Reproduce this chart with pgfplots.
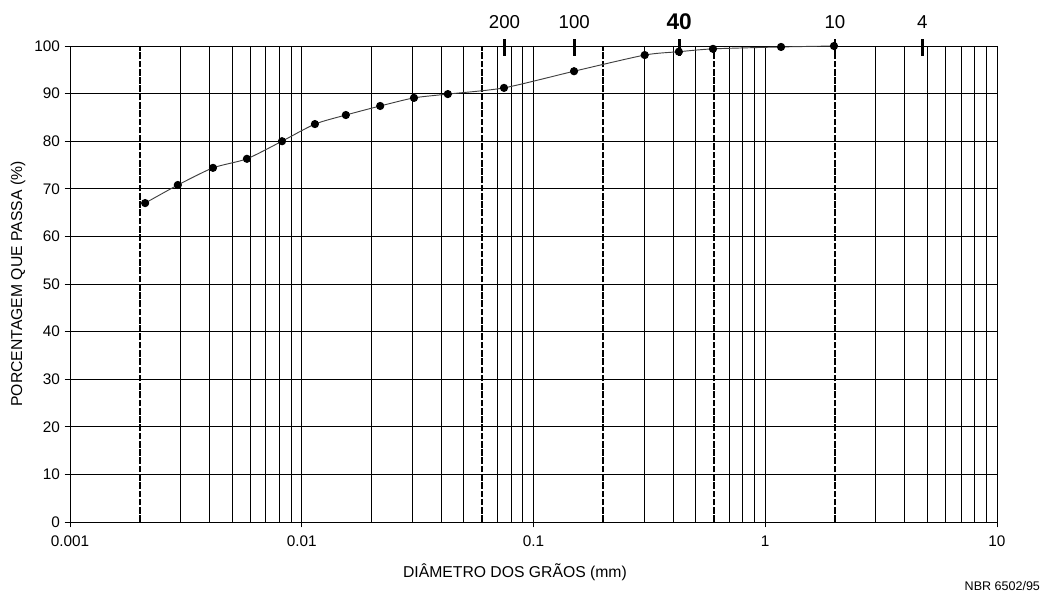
\documentclass[border=0pt]{standalone}
\usepackage{fontspec}
\setmainfont{Liberation Sans}
\usepackage{pgfplots}
\pgfplotsset{compat=1.18}
\begin{document}
\begin{tikzpicture}[x=1pt,y=1pt]
\begin{axis}[
  at={(0,0)}, anchor=south west,
  scale only axis,
  width=695.25pt, height=357pt,
  xmode=log, log basis x=10,
  xmin=0.001, xmax=10, ymin=0, ymax=100,
  xtick={0.001,0.01,0.1,1,10},
  xticklabels={0.001,0.01,0.1,1,10},
  minor xtick={0.003,0.004,0.005,0.006,0.007,0.008,0.009,
               0.02,0.03,0.04,0.05,0.07,0.08,0.09,
               0.3,0.4,0.5,0.7,0.8,0.9,
               3,4,5,6,7,8,9},
  ytick={0,10,...,100},
  xmajorgrids, xminorgrids, ymajorgrids,
  grid style={black, line width=0.6pt},
  minor grid style={black, line width=0.6pt},
  axis line style={black, line width=0.7pt},
  tick style={black, line width=0.7pt},
  tick align=outside,
  major tick length=4pt, minor tick length=0pt,
  xtick pos=bottom, ytick pos=left,
  /pgf/number format/assume math mode=true,
  ticklabel style={font=\fontsize{11.5}{13}\selectfont},
  xticklabel style={yshift=-3pt},
  xlabel={DIÂMETRO DOS GRÃOS (mm)},
  ylabel={PORCENTAGEM QUE PASSA (\%)},
  label style={font=\fontsize{11.8}{14}\selectfont},
  xlabel style={at={(axis description cs:0.48,0)}, anchor=center, yshift=-38pt},
  ylabel style={at={(axis description cs:-0.0561,0.5)}, anchor=center},
  clip=false,
]
% dashed boundary lines
\addplot[black, line width=1.3pt, dash pattern=on 5pt off 1.2pt] coordinates {(0.002,0) (0.002,100)};
\addplot[black, line width=1.3pt, dash pattern=on 5pt off 1.2pt] coordinates {(0.06,0) (0.06,100)};
\addplot[black, line width=1.3pt, dash pattern=on 5pt off 1.2pt] coordinates {(0.2,0) (0.2,100)};
\addplot[black, line width=1.3pt, dash pattern=on 5pt off 1.2pt] coordinates {(0.6,0) (0.6,100)};
\addplot[black, line width=1.3pt, dash pattern=on 5pt off 1.2pt] coordinates {(2,0) (2,100)};
% sieve markers
\addplot[black, line width=2.2pt] coordinates {(0.075,98.0) (0.075,101.4)};
\addplot[black, line width=2.2pt] coordinates {(0.15,98.0) (0.15,101.4)};
\addplot[black, line width=2.2pt] coordinates {(0.425,98.0) (0.425,101.4)};
\addplot[black, line width=2.2pt] coordinates {(2.0,98.0) (2.0,101.4)};
\addplot[black, line width=2.2pt] coordinates {(4.76,98.0) (4.76,101.4)};
\node[font=\fontsize{14}{16}\selectfont] at (axis cs:0.075,105.0) {200};
\node[font=\fontsize{14}{16}\selectfont] at (axis cs:0.15,105.0) {100};
\node[font=\fontsize{17}{20}\selectfont\bfseries] at (axis cs:0.425,105.2) {40};
\node[font=\fontsize{14}{16}\selectfont] at (axis cs:2.0,105.0) {10};
\node[font=\fontsize{14}{16}\selectfont] at (axis cs:4.76,105.0) {4};
% grain size curve
\addplot[color=black!75, line width=0.7pt, smooth, tension=0.4,
  mark=*, mark size=2.7pt, mark options={fill=black, draw=black, solid}]
coordinates {
(0.00211,67.0) (0.00292,70.8) (0.00414,74.4) (0.0058,76.3) (0.00822,80.0)
(0.0114,83.6) (0.0155,85.5) (0.0218,87.4) (0.0305,89.1) (0.0427,89.9)
(0.0746,91.2) (0.1496,94.7) (0.302,98.1) (0.424,98.8) (0.595,99.4)
(1.17,99.8) (1.98,100)
};
\end{axis}
\node[anchor=base east, font=\fontsize{9.4}{11}\selectfont] at (731pt,-51pt) {NBR 6502/95};
\pgfresetboundingbox
\useasboundingbox (-52.5pt,-54pt) rectangle (731.25pt,391.5pt);
\end{tikzpicture}
\end{document}
